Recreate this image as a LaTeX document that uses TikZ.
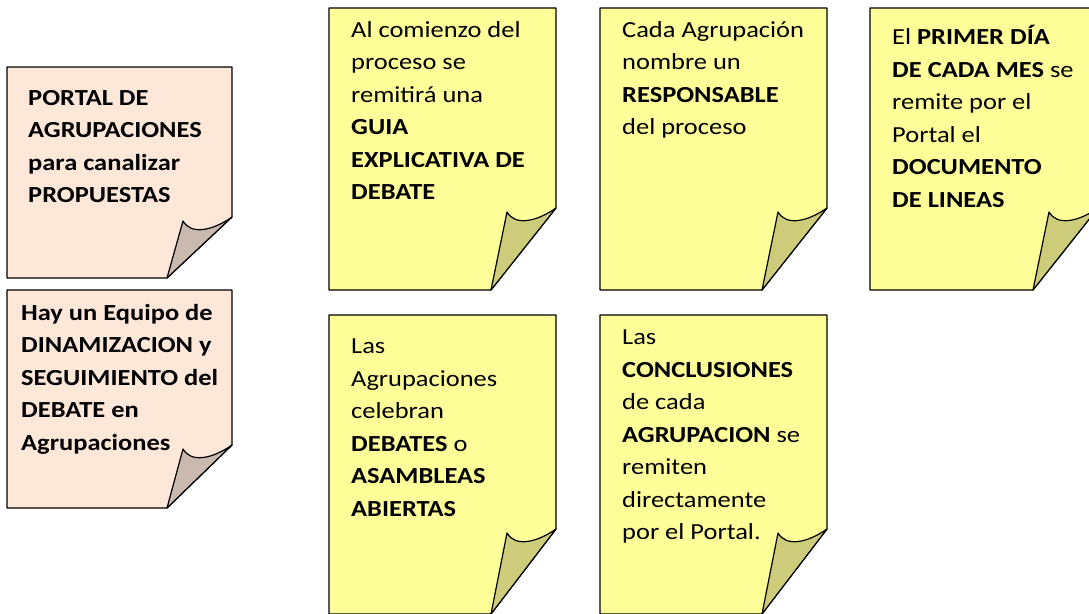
\documentclass[tikz,border=0pt]{standalone}
\usepackage{fontspec}
\setmainfont{Carlito}[FakeStretch=1.15]
\usepackage{tikz}
\usetikzlibrary{positioning}

\definecolor{rosa}{RGB}{252,231,217}
\definecolor{amarillo}{RGB}{255,255,153}

\begin{document}
\begin{tikzpicture}[x=1pt,y=-1pt,
		hoja/.style={draw=black, line width=1.2pt, line join=round},
		pliegue/.style={draw=black, line width=1.2pt, line join=round},
		nota/.style={anchor=north west, inner sep=0pt, align=left,
			font=\fontsize{23}{32.5}\selectfont, execute at begin node=\strut}
	]
	\clip (0,0) rectangle (1089,613);

	% hojas con la esquina doblada
	\foreach \l/\t/\r/\b/\d/\c in {7/67/232/278/61/rosa, 7/290/232/508/63/rosa,
		329/8/556/290/82/amarillo, 600/8/827/290/82/amarillo, 870/8/1098/290/82/amarillo,
		329/315/556/614/85/amarillo, 600/315/827/614/85/amarillo}
	{
		\draw[hoja, fill=\c] (\l,\t) -- (\r,\t) -- (\r,\b-\d) -- (\r-65,\b) -- (\l,\b) -- cycle;
		\draw[pliegue, fill=\c!80!black] (\r,\b-\d) .. controls +(-20,14) and +(8,14) .. (\r-49,\b-\d+4) -- (\r-65,\b) -- cycle;
	}

	\node[nota] (portal) at (28,90) {\textbf{PORTAL DE}\\\textbf{AGRUPACIONES}\\\textbf{para canalizar}\\\textbf{PROPUESTAS}};
	\node[nota] (equipo) at (21,304) {\textbf{Hay un Equipo de}\\\textbf{DINAMIZACION y}\\\textbf{SEGUIMIENTO del}\\\textbf{DEBATE en}\\\textbf{Agrupaciones}};

	\node[nota] (guia) at (351,21) {Al comienzo del\\proceso se\\remitirá una\\\textbf{GUIA}\\\textbf{EXPLICATIVA DE}\\\textbf{DEBATE}};
	\node[nota] (responsable) at (622,21) {Cada Agrupación\\nombre un\\\textbf{RESPONSABLE}\\del proceso};
	\node[nota] (lineas) at (892,25) {El \textbf{PRIMER DÍA}\\\textbf{DE CADA MES} se\\remite por el\\Portal el\\\textbf{DOCUMENTO}\\\textbf{DE LINEAS}};

	\node[nota] (debates) at (351,339) {Las\\Agrupaciones\\celebran\\\textbf{DEBATES} o\\\textbf{ASAMBLEAS}\\\textbf{ABIERTAS}};
	\node[nota] (conclusiones) at (622,330) {Las\\\textbf{CONCLUSIONES}\\de cada\\\textbf{AGRUPACION} se\\remiten\\directamente\\por el Portal.};
\end{tikzpicture}
\end{document}
